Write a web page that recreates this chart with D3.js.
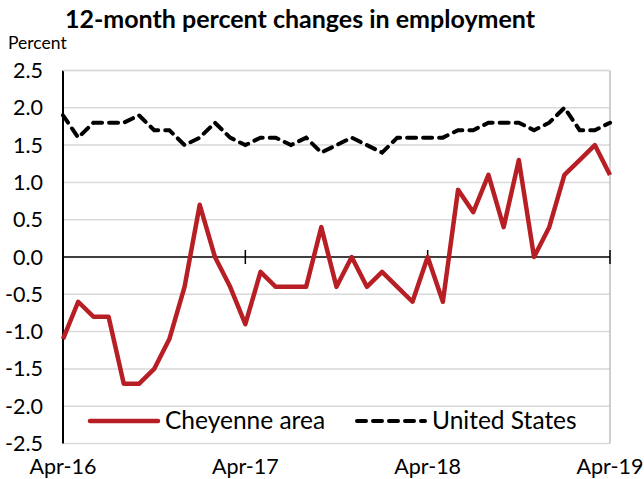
<!DOCTYPE html>
<html>
<head>
<meta charset="utf-8">
<script src="https://cdn.jsdelivr.net/npm/d3@7"></script>
<style>
body { margin: 0; background: #fff; }
text { font-family: Lato, "Open Sans", sans-serif; }
</style>
</head>
<body>
<svg width="644" height="479"></svg>
<script>
// monthly data, Apr-16 .. Apr-19
let cheyenne = [-1.1, -0.6, -0.8, -0.8, -1.7, -1.7, -1.5, -1.1, -0.4, 0.7, 0.0, -0.4,
    -0.9, -0.2, -0.4, -0.4, -0.4, 0.4, -0.4, 0.0, -0.4, -0.2, -0.4, -0.6,
    0.0, -0.6, 0.9, 0.6, 1.1, 0.4, 1.3, 0.0, 0.4, 1.1, 1.3, 1.5, 1.1]
let unitedStates = [1.9, 1.6, 1.8, 1.8, 1.8, 1.9, 1.7, 1.7, 1.5, 1.6, 1.8, 1.6,
    1.5, 1.6, 1.6, 1.5, 1.6, 1.4, 1.5, 1.6, 1.5, 1.4, 1.6, 1.6,
    1.6, 1.6, 1.7, 1.7, 1.8, 1.8, 1.8, 1.7, 1.8, 2.0, 1.7, 1.7, 1.8]
let yTicks = [2.5, 2.0, 1.5, 1.0, 0.5, 0.0, -0.5, -1.0, -1.5, -2.0, -2.5]
let xTickLabels = ["Apr-16", "Apr-17", "Apr-18", "Apr-19"]

let plotLeft = 63, plotRight = 610, plotTop = 70.5, plotBottom = 443.5
let svg = d3.select('svg')

let x = d3.scaleLinear().domain([0, 36]).range([plotLeft, plotRight])
let y = d3.scaleLinear().domain([-2.5, 2.5]).range([plotBottom, plotTop])

// gridlines
svg.append('g').selectAll('line')
    .data(yTicks.filter(d => d !== 0))
    .enter().append('line')
    .attr('x1', plotLeft).attr('x2', plotRight)
    .attr('y1', d => y(d)).attr('y2', d => y(d))
    .attr('stroke', '#d9d9d9').attr('stroke-width', 1.5)

// right border
svg.append('line')
    .attr('x1', plotRight).attr('x2', plotRight).attr('y1', plotTop).attr('y2', plotBottom)
    .attr('stroke', '#bfbfbf').attr('stroke-width', 1.5)

// y axis labels
svg.append('g').selectAll('text')
    .data(yTicks)
    .enter().append('text')
    .attr('x', 43).attr('y', d => y(d) + 7.5)
    .attr('text-anchor', 'end')
    .attr('font-size', 21.5)
    .text(d => d.toFixed(1))

// x labels
svg.append('g').selectAll('text')
    .data(xTickLabels)
    .enter().append('text')
    .attr('x', (d, i) => x(i * 12)).attr('y', 474)
    .attr('text-anchor', 'middle')
    .attr('font-size', 21.5)
    .text(d => d)

// zero line with ticks
svg.append('line')
    .attr('x1', plotLeft).attr('x2', plotRight).attr('y1', y(0)).attr('y2', y(0))
    .attr('stroke', '#000').attr('stroke-width', 1.5)
svg.append('g').selectAll('line')
    .data(xTickLabels)
    .enter().append('line')
    .attr('x1', (d, i) => x(i * 12)).attr('x2', (d, i) => x(i * 12))
    .attr('y1', y(0) - 7).attr('y2', y(0) + 7)
    .attr('stroke', '#000').attr('stroke-width', 1.5)

// left axis
svg.append('line')
    .attr('x1', plotLeft).attr('x2', plotLeft).attr('y1', plotTop).attr('y2', plotBottom)
    .attr('stroke', '#000').attr('stroke-width', 2)

let line = d3.line().x((d, i) => x(i)).y(d => y(d))

svg.append('path')
    .datum(unitedStates)
    .attr('d', line)
    .attr('fill', 'none').attr('stroke', '#000').attr('stroke-width', 4)
    .attr('stroke-dasharray', '9,7').attr('stroke-linecap', 'round')

svg.append('path')
    .datum(cheyenne)
    .attr('d', line)
    .attr('fill', 'none').attr('stroke', '#b71f25').attr('stroke-width', 4.5)
    .attr('stroke-linejoin', 'round')

// top border drawn on top
svg.append('line')
    .attr('x1', plotLeft).attr('x2', plotRight).attr('y1', plotTop).attr('y2', plotTop)
    .attr('stroke', '#d9d9d9').attr('stroke-width', 1.5)

// legend
let lg = svg.append('g')
lg.append('line').attr('x1', 90).attr('x2', 158).attr('y1', 421).attr('y2', 421)
    .attr('stroke', '#b71f25').attr('stroke-width', 4.5).attr('stroke-linecap', 'round')
lg.append('text').attr('x', 165).attr('y', 429).attr('font-size', 24.5).text('Cheyenne area')
lg.append('line').attr('x1', 357).attr('x2', 425).attr('y1', 421).attr('y2', 421)
    .attr('stroke', '#000').attr('stroke-width', 4)
    .attr('stroke-dasharray', '9,7').attr('stroke-linecap', 'round')
lg.append('text').attr('x', 432).attr('y', 429).attr('font-size', 24.5).text('United States')

// titles
svg.append('text').attr('x', 300).attr('y', 28).attr('text-anchor', 'middle')
    .attr('font-size', 25).attr('font-weight', 'bold').text('12-month percent changes in employment')
svg.append('text').attr('x', 8).attr('y', 49).attr('font-size', 17.5).text('Percent')
</script>
</body>
</html>
